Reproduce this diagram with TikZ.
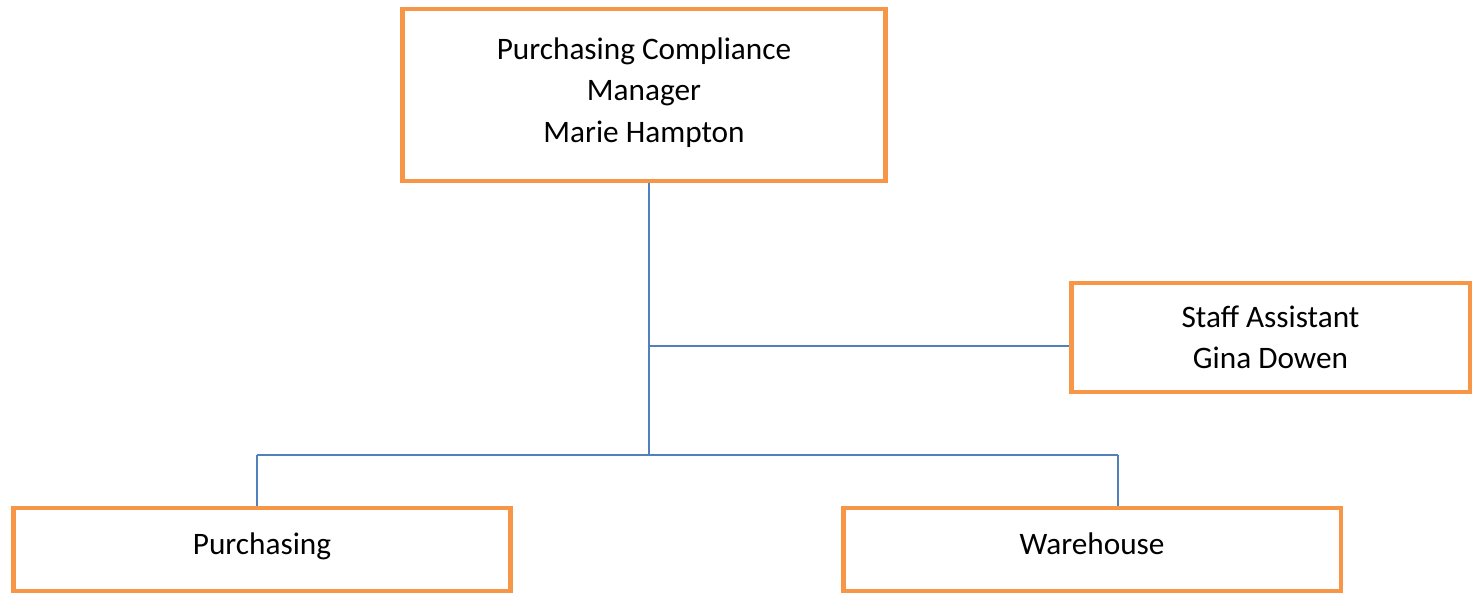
\documentclass[tikz,border=0pt]{standalone}
\usepackage{fontspec}
\setmainfont{Carlito}
\usetikzlibrary{positioning}
\definecolor{boxorange}{HTML}{F79646}
\definecolor{linkblue}{HTML}{4F81BD}

\begin{document}
\begin{tikzpicture}
  [x=0.02cm,y=-0.02cm,
  unit/.style={rectangle,draw=boxorange,line width=2.8pt,fill=white,
               align=center,inner sep=0pt,
               font=\fontsize{17.8}{23.6}\selectfont},
  dept/.style={unit,minimum width=9.96cm,minimum height=1.66cm,
               text height=0.7em,text depth=0.13em},
  link/.style={draw=linkblue,line width=0.9pt}]
  \useasboundingbox (0,0) rectangle (1475,593);
  \node[unit,minimum width=9.68cm,minimum height=3.44cm]
        (manager)   at (644,95)
        {Purchasing Compliance\\Manager\\Marie Hampton\\[-18pt]};
  \node[unit,minimum width=7.98cm,minimum height=2.18cm]
        (assistant) at (1270.5,337.5) {Staff Assistant\\Gina Dowen};
  \node[dept] (purchasing) at (262,549.5) {Purchasing};
  \node[dept] (warehouse)  at (1092,549.5) {Warehouse};

  \coordinate (hub)   at (649,455);
  \coordinate (mid)   at (649,346);
  \coordinate (left)  at (257,455);
  \coordinate (right) at (1118,455);

  \draw [link] (hub |- manager.south) -- (hub);
  \draw [link] (mid) -- (mid -| assistant.west);
  \draw [link] (left) -- (right);
  \draw [link] (left) -- (left |- purchasing.north);
  \draw [link] (right) -- (right |- warehouse.north);
\end{tikzpicture}
\end{document}
